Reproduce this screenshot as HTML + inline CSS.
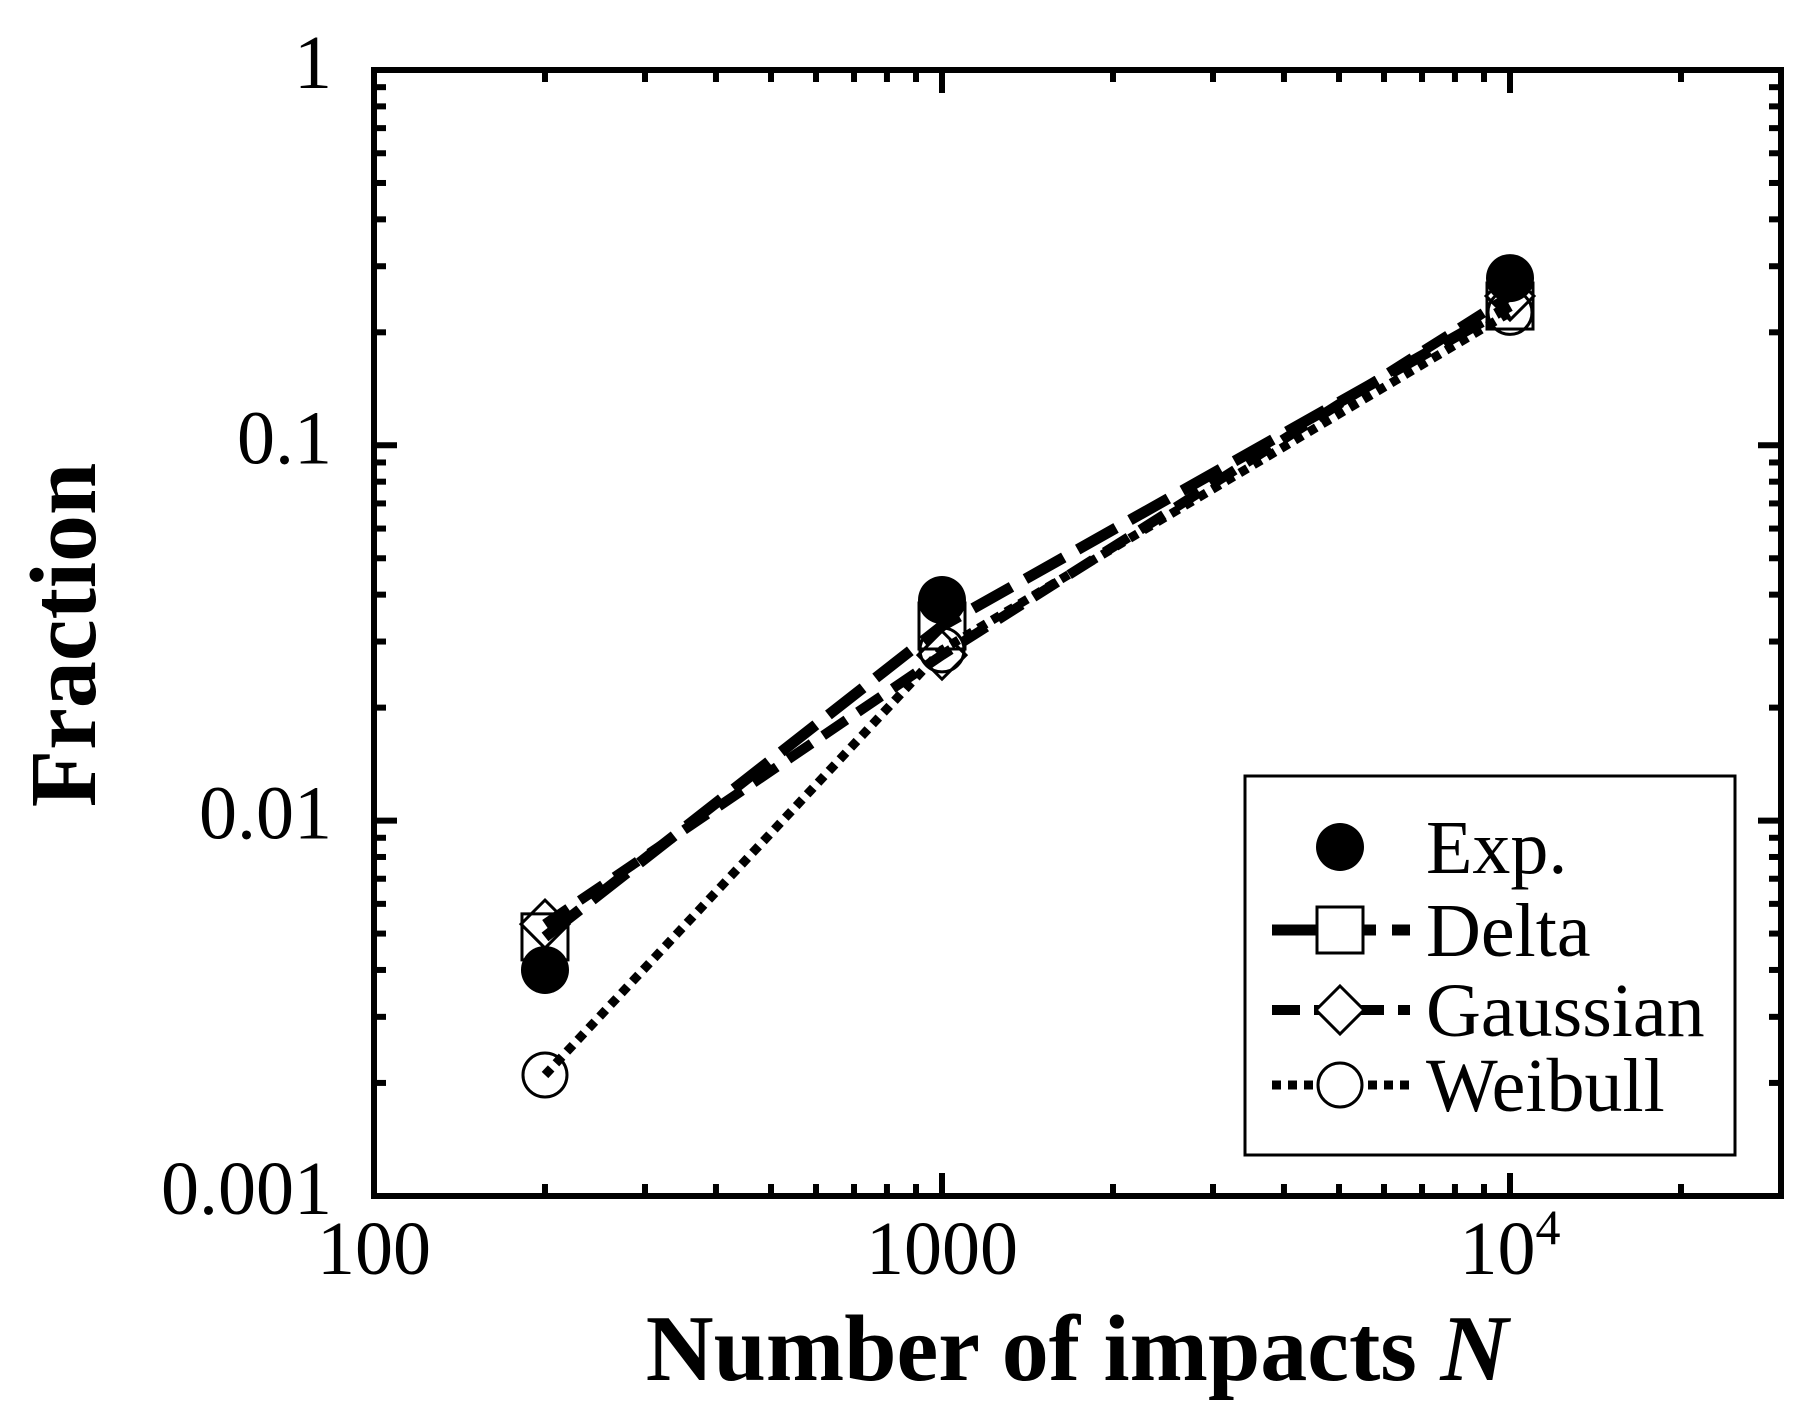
<!DOCTYPE html>
<html><head><meta charset="utf-8">
<style>
html,body{margin:0;padding:0;background:#fff;}
svg{display:block;font-family:"Liberation Serif",serif;}
</style></head>
<body>
<svg id="chart" width="1811" height="1426" viewBox="0 0 1811 1426" xmlns="http://www.w3.org/2000/svg">
<text x="0" y="0" transform="translate(95,635) rotate(-90)" text-anchor="middle" font-size="94" font-weight="bold">Fraction</text>
<text x="1077" y="1380" text-anchor="middle" font-size="94" font-weight="bold">Number of impacts <tspan font-style="italic">N</tspan></text>
<g id="marks"></g>
<rect x="374" y="70" width="1407" height="1126" fill="none" stroke="#000" stroke-width="6"/>
<g id="legend">
<rect x="1245" y="776" width="490" height="379" fill="#fff" stroke="#000" stroke-width="3"/>
</g>
</svg>
<script>
const xCats = [200, 1000, 10000];
const expVals = [0.004, 0.0387, 0.279];
const deltaVals = [0.0049, 0.033, 0.235];
const gaussVals = [0.0053, 0.0276, 0.25];
const weibullVals = [0.0021, 0.0285, 0.226];
const yTickVals = [1, 0.1, 0.01, 0.001];
const yTickLabels = ["1", "0.1", "0.01", "0.001"];
const xTickVals = [100, 1000, 10000];
const xTickLabels = ["100", "1000", "10^4"];
const legendLabels = ["Exp.", "Delta", "Gaussian", "Weibull"];

const NS = "http://www.w3.org/2000/svg";
const X0 = 374, XPD = 568, Y0 = 70, YPD = 375.3;
function xs(v){ return X0 + (Math.log10(v) - 2) * XPD; }
function ys(v){ return Y0 - Math.log10(v) * YPD; }
function mk(tag, attrs, parent){ const e = document.createElementNS(NS, tag); for (const k in attrs) e.setAttribute(k, attrs[k]); parent.appendChild(e); return e; }
const svg = document.getElementById('chart');
const marks = document.getElementById('marks');
const legend = document.getElementById('legend');

const XMAX = 1781, YMAX = 1196;
for (let d = 2; d <= 4; d++) {
  for (let m = 1; m <= 9; m++) {
    const v = m * Math.pow(10, d);
    const x = xs(v);
    if (x > XMAX - 2) continue;
    const len = m === 1 ? 23 : 12;
    let t = mk('line', {x1:x, x2:x, y1:YMAX, y2:YMAX-len, stroke:'#000','stroke-width':6}, svg);
    
    
    t = mk('line', {x1:x, x2:x, y1:Y0, y2:Y0+len, stroke:'#000','stroke-width':6}, svg);
    
    
  }
}
for (let d = -3; d < 0; d++) {
  for (let m = 1; m <= 9; m++) {
    const v = m * Math.pow(10, d);
    const y = ys(v);
    const len = m === 1 ? 23 : 12;
    if (m === 1 && d === -3) continue;
    let t = mk('line', {x1:X0, x2:X0+len, y1:y, y2:y, stroke:'#000','stroke-width':6}, svg);
    
    
    t = mk('line', {x1:XMAX, x2:XMAX-len, y1:y, y2:y, stroke:'#000','stroke-width':6}, svg);
    
    
  }
}
yTickVals.forEach((v, i) => {
  const t = mk('text', {x:332, y:ys(v)+18, 'text-anchor':'end', 'font-size':76}, svg);
  
  
  t.textContent = yTickLabels[i];
});
xTickVals.forEach((v, i) => {
  const t = mk('text', {x:xs(v), y:1274, 'text-anchor':'middle', 'font-size':76}, svg);
  
  
  const lab = xTickLabels[i];
  if (lab.indexOf('^') >= 0) {
    const p = lab.split('^');
    const a = document.createElementNS(NS, 'tspan'); a.textContent = p[0]; t.appendChild(a);
    const b = document.createElementNS(NS, 'tspan'); b.setAttribute('dy', '-30'); b.setAttribute('font-size', '50'); b.textContent = p[1]; t.appendChild(b);
  } else t.textContent = lab;
});

const styles = {
  delta: {dash:'44 16', w:11},
  gauss: {dash:'28 14', w:10},
  weibull: {dash:'9 7', w:9}
};
function series(vals, st, name){
  const pts = vals.map((v,i)=>xs(xCats[i]).toFixed(1)+','+ys(v).toFixed(1)).join(' ');
  const p = mk('polyline', {points:pts, fill:'none', stroke:'#000', 'stroke-width':st.w, 'stroke-dasharray':st.dash}, marks);
  
  
}
series(weibullVals, styles.weibull, 'weibull-line');
series(gaussVals, styles.gauss, 'gaussian-line');
series(deltaVals, styles.delta, 'delta-line');

function square(g, x, y){ return mk('rect', {x:x-23, y:y-23, width:46, height:46, fill:'none', stroke:'#000','stroke-width':3}, g); }
function diamond(g, x, y){ return mk('polygon', {points:`${x},${y-24} ${x+24},${y} ${x},${y+24} ${x-24},${y}`, fill:'none', stroke:'#000','stroke-width':3}, g); }
function ocircle(g, x, y){ return mk('circle', {cx:x, cy:y, r:22, fill:'none', stroke:'#000','stroke-width':3}, g); }
function fcircle(g, x, y){ return mk('circle', {cx:x, cy:y, r:24, fill:'#000'}, g); }

deltaVals.forEach((v,i)=>{ const e = square(marks, xs(xCats[i]), ys(v));
  
   });
gaussVals.forEach((v,i)=>{ const e = diamond(marks, xs(xCats[i]), ys(v));
  
   });
weibullVals.forEach((v,i)=>{ const e = ocircle(marks, xs(xCats[i]), ys(v));
  
   });
expVals.forEach((v,i)=>{ const e = fcircle(marks, xs(xCats[i]), ys(v));
  
   });

const ly = [847, 930, 1010, 1085];
const lx = 1340;
let e;
e = fcircle(legend, lx, ly[0]);


const lineStyles = [styles.delta, styles.gauss, styles.weibull];
const markerFns = [square, diamond, ocircle];
for (let k = 1; k < 4; k++) {
  e = mk('line', {x1:1272, x2:1410, y1:ly[k], y2:ly[k], stroke:'#000', 'stroke-width':lineStyles[k-1].w, 'stroke-dasharray':lineStyles[k-1].dash}, legend);
  
  
  e = markerFns[k-1](legend, lx, ly[k]);
  e.setAttribute('fill', '#fff');
  
  
}
legendLabels.forEach((lab, k) => {
  const t = mk('text', {x:1426, y:ly[k]+26, 'font-size':76}, legend);
  
  
  t.textContent = lab;
});
</script>
</body></html>
